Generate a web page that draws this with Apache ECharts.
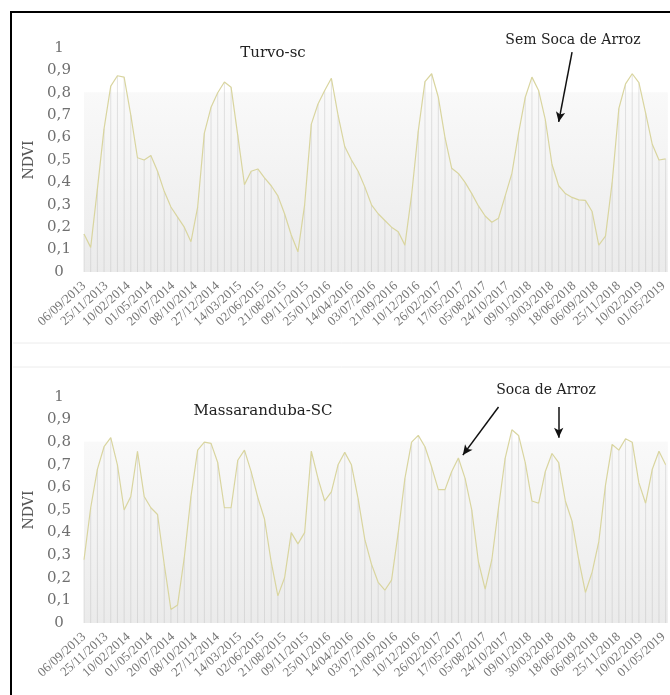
<!DOCTYPE html>
<html>
<head>
<meta charset="utf-8">
<script src="https://cdn.jsdelivr.net/npm/echarts@6/dist/echarts.min.js"></script>
<style>
html,body{margin:0;padding:0;background:#fff;}
#chart{width:670px;height:695px;}
</style>
</head>
<body>
<div id="chart"></div>
<script>
// ---- data ----
// Time axis: MODIS 8-day composites (restart at 1 Jan each year), from 06/09/2013
const startYear = 2013;
const startDoy = 249;            // 06/09/2013
const compositeDays = 8;
const compositeCount = 263;      // composites shown on the axis
const labelEvery = 10;           // one tick label every 10 composites
const sampleEvery = 3;           // values below are read every 3rd composite
const yTicks = [0, 0.1, 0.2, 0.3, 0.4, 0.5, 0.6, 0.7, 0.8, 0.9, 1];

const turvoTitle = 'Turvo-sc';
const massTitle = 'Massaranduba-SC';
const turvoNote = 'Sem Soca de Arroz';
const massNote = 'Soca de Arroz';

const turvo = [
  0.17, 0.11, 0.37, 0.64, 0.83, 0.876, 0.87, 0.70, 0.51, 0.50,
  0.52, 0.45, 0.36, 0.29, 0.245, 0.20, 0.135, 0.29, 0.62, 0.735,
  0.80, 0.848, 0.825, 0.61, 0.39, 0.45, 0.46, 0.42, 0.385, 0.34,
  0.26, 0.165, 0.09, 0.30, 0.66, 0.75, 0.81, 0.865, 0.70, 0.56,
  0.50, 0.45, 0.38, 0.30, 0.26, 0.23, 0.20, 0.18, 0.12, 0.344,
  0.63, 0.85, 0.885, 0.78, 0.60, 0.463, 0.44, 0.40, 0.35, 0.295,
  0.25, 0.222, 0.24, 0.34, 0.44, 0.62, 0.78, 0.87, 0.81, 0.68,
  0.48, 0.385, 0.35, 0.333, 0.322, 0.32, 0.27, 0.12, 0.16, 0.40,
  0.73, 0.84, 0.885, 0.845, 0.71, 0.57, 0.50, 0.505
];

const massaranduba = [
  0.28, 0.51, 0.68, 0.78, 0.82, 0.70, 0.50, 0.56, 0.76, 0.56,
  0.51, 0.48, 0.26, 0.06, 0.08, 0.29, 0.56, 0.765, 0.80, 0.795,
  0.71, 0.51, 0.51, 0.72, 0.765, 0.67, 0.555, 0.46, 0.27, 0.12,
  0.20, 0.40, 0.35, 0.40, 0.76, 0.64, 0.54, 0.58, 0.70, 0.755,
  0.70, 0.55, 0.37, 0.26, 0.18, 0.145, 0.19, 0.40, 0.64, 0.80,
  0.83, 0.78, 0.69, 0.59, 0.59, 0.67, 0.73, 0.64, 0.50, 0.27,
  0.15, 0.28, 0.51, 0.73, 0.855, 0.83, 0.71, 0.54, 0.53, 0.67,
  0.75, 0.71, 0.54, 0.45, 0.28, 0.135, 0.225, 0.36, 0.61, 0.79,
  0.765, 0.815, 0.80, 0.62, 0.53, 0.68, 0.76, 0.70
];

// arrow annotations: [fromComposite, fromValue, toComposite, toValue]
const turvoArrows = [[219, 0.982, 213, 0.67]];
const massArrows = [[186, 0.956, 170, 0.743], [213, 0.956, 213, 0.82]];

// ---- build categories (8-day composite dates) ----
function buildComposites(year, doy, step, n) {
  const out = [];
  let y = year, d = doy;
  const isLeap = yy => (yy % 4 === 0 && yy % 100 !== 0) || yy % 400 === 0;
  for (let i = 0; i < n; i++) {
    const t = new Date(Date.UTC(y, 0, 1) + (d - 1) * 86400000);
    out.push(String(t.getUTCDate()).padStart(2, '0') + '/' +
             String(t.getUTCMonth() + 1).padStart(2, '0') + '/' + t.getUTCFullYear());
    d += step;
    if (d > (isLeap(y) ? 366 : 365)) { y += 1; d = 1; }
  }
  return out;
}
const categories = buildComposites(startYear, startDoy, compositeDays, compositeCount);
const toPairs = vals => vals.map((v, k) => [k * sampleEvery, v]);

const FONT = 'DejaVu Serif';
const XFONT = 'Liberation Serif';
const chart = echarts.init(document.getElementById('chart'), null, {renderer: 'canvas'});

const plotBg = {
  type: 'linear', x: 0, y: 0, x2: 0, y2: 1,
  colorStops: [
    {offset: 0, color: '#ffffff'},
    {offset: 0.195, color: '#ffffff'},
    {offset: 0.2, color: '#f9f9f9'},
    {offset: 1, color: '#ebebeb'}
  ]
};

function xAxisFor(idx) {
  return {
    type: 'category', gridIndex: idx, data: categories, boundaryGap: false,
    axisLine: {show: false}, axisTick: {show: false}, splitLine: {show: false},
    axisLabel: {
      interval: labelEvery - 1, rotate: 42, margin: 12,
      fontFamily: XFONT, fontSize: 13, color: '#777777'
    }
  };
}
function yAxisFor(idx) {
  return {
    type: 'value', gridIndex: idx, min: yTicks[0], max: yTicks[yTicks.length - 1],
    interval: 0.1,
    name: 'NDVI', nameLocation: 'middle', nameRotate: 90, nameGap: 46,
    nameTextStyle: {fontFamily: FONT, fontSize: 14, color: '#555'},
    axisLine: {show: false}, axisTick: {show: false}, splitLine: {show: false},
    axisLabel: {
      margin: 25, align: 'center', fontFamily: FONT, fontSize: 15, color: '#707070',
      formatter: v => String(Math.round(v * 10) / 10).replace('.', ',')
    }
  };
}
function arrowLines(list) {
  return list.map(a => [
    {coord: [a[0], a[1]], symbol: 'none'},
    {coord: [a[2], a[3]], symbol: 'arrow'}
  ]);
}
function seriesFor(idx, vals, arrows) {
  const data = toPairs(vals);
  return [
    {
      type: 'bar', xAxisIndex: idx, yAxisIndex: idx, data: data,
      barWidth: 1, silent: true, z: 1,
      itemStyle: {color: 'rgba(185,185,185,0.38)'}
    },
    {
      type: 'line', xAxisIndex: idx, yAxisIndex: idx, data: data,
      symbol: 'none', smooth: false, silent: true, z: 3,
      lineStyle: {color: '#d9d59f', width: 1.2},
      markLine: {
        silent: true, symbolSize: [7, 10], label: {show: false},
        lineStyle: {color: '#111', width: 1.5, type: 'solid'},
        data: arrowLines(arrows)
      }
    }
  ];
}

const option = {
  animation: false,
  backgroundColor: '#ffffff',
  grid: [
    {left: 84, top: 48, width: 584, height: 224, show: true, borderWidth: 0, backgroundColor: plotBg},
    {left: 84, top: 397, width: 584, height: 226, show: true, borderWidth: 0, backgroundColor: plotBg}
  ],
  xAxis: [xAxisFor(0), xAxisFor(1)],
  yAxis: [yAxisFor(0), yAxisFor(1)],
  series: [].concat(seriesFor(0, turvo, turvoArrows), seriesFor(1, massaranduba, massArrows)),
  graphic: [
    {type: 'polyline', silent: true, shape: {points: [[11, 695], [11, 12], [670, 12]]},
     style: {stroke: '#000', lineWidth: 2, fill: null}},
    {type: 'line', silent: true, shape: {x1: 13, y1: 343, x2: 670, y2: 343}, style: {stroke: '#ececec', lineWidth: 1}},
    {type: 'line', silent: true, shape: {x1: 13, y1: 367, x2: 670, y2: 367}, style: {stroke: '#ececec', lineWidth: 1}},
    {type: 'text', silent: true, x: 273, y: 53,
     style: {text: turvoTitle, font: '15px "' + FONT + '"', fill: '#222', align: 'center', verticalAlign: 'middle'}},
    {type: 'text', silent: true, x: 263, y: 411,
     style: {text: massTitle, font: '15px "' + FONT + '"', fill: '#222', align: 'center', verticalAlign: 'middle'}},
    {type: 'text', silent: true, x: 573, y: 40,
     style: {text: turvoNote, font: '14px "' + FONT + '"', fill: '#222', align: 'center', verticalAlign: 'middle'}},
    {type: 'text', silent: true, x: 546, y: 390,
     style: {text: massNote, font: '14px "' + FONT + '"', fill: '#222', align: 'center', verticalAlign: 'middle'}}
  ]
};
chart.setOption(option);
</script>
</body>
</html>
